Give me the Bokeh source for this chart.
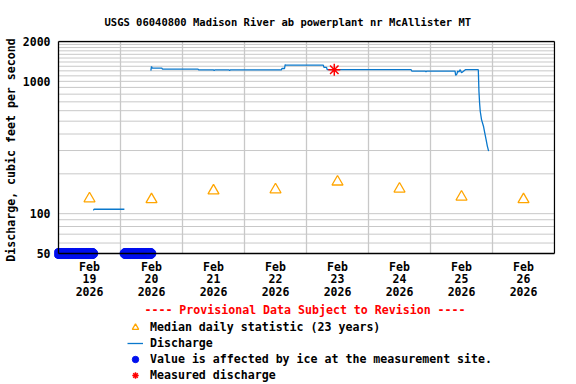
import numpy as np
import pandas as pd
from bokeh.plotting import figure
from bokeh.layouts import column
from bokeh.models import (Range1d, FixedTicker, PrintfTickFormatter, Legend,
                          LegendItem, ColumnDataSource, Title)
from bokeh.embed import file_html
from bokeh.resources import INLINE

# ---------------- data ----------------
day_labels = ["2026-02-19", "2026-02-20", "2026-02-21", "2026-02-22",
              "2026-02-23", "2026-02-24", "2026-02-25", "2026-02-26"]
median_cfs = [130, 128, 149, 152, 174, 154, 134, 128]

discharge_times = [
    "2026-02-19 13:30", "2026-02-19 13:45", "2026-02-20 01:30",
    "2026-02-20 06:00",
    "2026-02-20 11:45", "2026-02-20 12:00", "2026-02-20 12:15", "2026-02-20 16:00",
    "2026-02-20 16:15", "2026-02-21 06:00", "2026-02-21 06:15", "2026-02-21 12:00",
    "2026-02-21 12:15", "2026-02-21 12:30", "2026-02-21 18:00", "2026-02-21 18:15",
    "2026-02-21 18:30", "2026-02-22 14:15", "2026-02-22 14:30", "2026-02-22 15:30",
    "2026-02-22 15:45", "2026-02-22 16:00", "2026-02-23 06:30", "2026-02-23 06:45",
    "2026-02-23 07:45", "2026-02-23 08:00", "2026-02-24 16:30", "2026-02-24 16:45",
    "2026-02-24 22:00", "2026-02-24 22:15", "2026-02-24 22:30", "2026-02-25 09:30",
    "2026-02-25 09:45", "2026-02-25 10:15", "2026-02-25 10:30", "2026-02-25 11:00",
    "2026-02-25 11:30", "2026-02-25 12:00", "2026-02-25 13:30", "2026-02-25 18:30",
    "2026-02-25 18:45", "2026-02-25 19:00", "2026-02-25 19:15", "2026-02-25 19:45",
    "2026-02-25 20:30", "2026-02-25 21:00", "2026-02-25 21:30", "2026-02-25 22:00",
    "2026-02-25 22:30",
]
discharge_cfs = [
    106, 108, 108,
    np.nan,
    1204, 1297, 1260, 1260,
    1238, 1238, 1221, 1221,
    1204, 1221, 1221, 1204,
    1221, 1221, 1250, 1250,
    1335, 1327, 1327, 1275,
    1275, 1225, 1225, 1196,
    1196, 1180, 1196, 1196,
    1110, 1140, 1196, 1180,
    1225, 1160, 1225, 1225,
    841, 686, 594, 514,
    458, 408, 364, 324,
    297,
]

ice_start = ["2026-02-19 00:00", "2026-02-20 01:45"]
ice_end = ["2026-02-19 13:15", "2026-02-20 11:45"]
ice_level = 50

measured_time = ["2026-02-23 10:45"]
measured_cfs = [1225]

y_major = [50, 100, 1000, 2000]
y_grid = [60, 70, 80, 90, 100] + list(range(200, 2000, 100))
y_low, y_high = 50, 2000
x_first = "2026-02-19"
x_last = "2026-02-27"

legend_labels = ["Median daily statistic (23 years)", "Discharge",
                 "Value is affected by ice at the measurement site.",
                 "Measured discharge"]

# ---------------- styles ----------------
FONT = "DejaVu Sans Mono"
BLUE_LINE = "#0a78cc"
ICE_BLUE = "#0010ee"
ORANGE = "#ffa500"
RED = "#ff0000"
GRID = "#c8c8c8"

t0 = pd.Timestamp(x_first)
t1 = pd.Timestamp(x_last)
x_range = Range1d(t0 - pd.Timedelta(minutes=93), t1 + pd.Timedelta(minutes=23))
y_range = Range1d(45.06, 2035)

p = figure(frame_width=501, frame_height=219, x_axis_type="datetime", y_axis_type="log",
           x_range=x_range, y_range=y_range, output_backend="svg",
           toolbar_location=None, min_border_left=54, min_border_right=21,
           min_border_top=39, min_border_bottom=60)
p.grid.visible = False
p.outline_line_color = None
p.background_fill_color = "white"

# grid lines
midnights = pd.to_datetime(day_labels[1:])
p.segment(x0=list(midnights), y0=[y_low] * len(midnights),
          x1=list(midnights), y1=[y_high] * len(midnights),
          line_color=GRID, line_width=1.3)
p.segment(x0=[t0] * len(y_grid), y0=y_grid, x1=[t1] * len(y_grid), y1=y_grid,
          line_color=GRID, line_width=1)

# data sources
ice_t = []
for s, e in zip(ice_start, ice_end):
    ice_t += list(pd.date_range(s, e, freq="15min"))
ice_src = ColumnDataSource(dict(t=ice_t, q=[ice_level] * len(ice_t)))
med_t = pd.to_datetime(day_labels) + pd.Timedelta(hours=12)
med_src = ColumnDataSource(dict(t=list(med_t), q=median_cfs))
q_src = ColumnDataSource(dict(t=pd.to_datetime(discharge_times), q=discharge_cfs))
m_src = ColumnDataSource(dict(t=list(pd.to_datetime(measured_time)), q=measured_cfs))

# ice
p.scatter("t", "q", source=ice_src, marker="circle", size=10,
          fill_color=ICE_BLUE, line_color=ICE_BLUE)

# frame box
p.segment(x0=[t0, t0, t0, t1], y0=[y_low, y_high, y_low, y_low],
          x1=[t1, t1, t0, t1], y1=[y_low, y_high, y_high, y_high],
          line_color="black", line_width=1.3)

# median, discharge, measured
p.scatter("t", "q", source=med_src, marker="triangle", size=11,
          fill_color=None, line_color=ORANGE, line_width=1.3)
p.line("t", "q", source=q_src, line_color=BLUE_LINE, line_width=1.3)
p.scatter("t", "q", source=m_src, marker="asterisk", size=12,
          line_color=RED, line_width=1.5)

# axes
noon_ms = [ts.value / 1e6 for ts in med_t]
p.xaxis.ticker = FixedTicker(ticks=noon_ms)
p.xaxis.major_label_overrides = {
    ms: "Feb\n%d\n%d" % (ts.day, ts.year) for ms, ts in zip(noon_ms, med_t)}
for ax in (p.xaxis[0], p.yaxis[0]):
    ax.axis_line_color = None
    ax.major_tick_line_color = None
    ax.minor_tick_line_color = None
    ax.major_tick_out = 0
    ax.major_tick_in = 0
    ax.minor_tick_out = 0
    ax.minor_tick_in = 0
    ax.major_label_text_font = FONT
    ax.major_label_text_font_style = "bold"
    ax.major_label_text_font_size = "11.5px"
    ax.major_label_text_color = "black"
    ax.axis_label_text_font = FONT
    ax.axis_label_text_font_style = "bold"
    ax.axis_label_text_font_size = "11.6px"

p.xaxis.major_label_standoff = 0
p.xaxis.major_label_text_line_height = 0.92
p.xaxis.axis_label = "---- Provisional Data Subject to Revision ----"
p.xaxis.axis_label_text_color = RED
p.xaxis.axis_label_standoff = 1

p.yaxis.ticker = FixedTicker(ticks=y_major)
p.yaxis.formatter = PrintfTickFormatter(format="%d")
p.yaxis.major_label_standoff = 4
p.yaxis.axis_label = "Discharge, cubic feet per second"
p.yaxis.axis_label_text_color = "black"
p.yaxis.axis_label_standoff = 2

p.title = Title(text="USGS 06040800 Madison River ab powerplant nr McAllister MT",
                align="left", offset=50, standoff=26,
                text_font=FONT, text_font_style="bold", text_font_size="10.5px",
                text_color="black")

# ---------------- legend strip below the chart ----------------
# same borders as the chart so the column keeps both frames aligned;
# its ranges lie away from the data, so only the legend shows here
pl = figure(frame_width=501, frame_height=66, output_backend="svg",
            toolbar_location=None, x_axis_location=None, y_axis_location=None,
            min_border_left=54, min_border_right=21, min_border_top=0,
            min_border_bottom=0, x_range=Range1d(0, 1), y_range=Range1d(0, 1))
pl.outline_line_color = None
pl.grid.visible = False
pl.background_fill_color = "white"

k_med = pl.scatter("t", "q", source=med_src, marker="triangle", fill_color=None,
                   line_color=ORANGE, line_width=1.3)
k_q = pl.line("t", "q", source=q_src, line_color=BLUE_LINE, line_width=1.3)
k_ice = pl.scatter("t", "q", source=ice_src, marker="circle", fill_color=ICE_BLUE,
                   line_color=ICE_BLUE)
k_m = pl.scatter("t", "q", source=m_src, marker="asterisk", line_color=RED,
                 line_width=1.5)

legend = Legend(items=[
    LegendItem(label=lab, renderers=[r])
    for lab, r in zip(legend_labels, [k_med, k_q, k_ice, k_m])
], location=(73, 3), orientation="vertical", padding=0, margin=0,
    spacing=0, glyph_width=16, glyph_height=16, label_height=16,
    label_standoff=7, border_line_color=None, background_fill_alpha=0,
    label_text_font=FONT, label_text_font_style="bold",
    label_text_font_size="11.6px", label_text_color="black")
pl.add_layout(legend, "center")

layout = column(p, pl, spacing=0)
open("out.html", "w").write(file_html(layout, INLINE))
